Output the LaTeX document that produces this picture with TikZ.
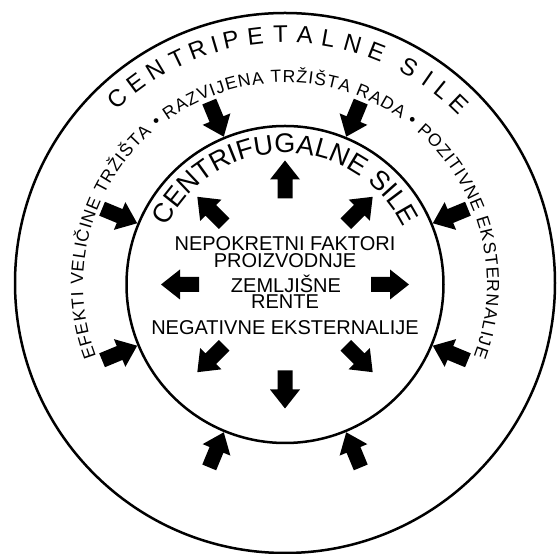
\documentclass[tikz,border=0pt]{standalone}
\usepackage{fontspec}
\setmainfont{Liberation Sans}
\usetikzlibrary{decorations.text,calc}
\newcommand\blockarr[4]{\fill[shift={(C)},rotate=#1] (#2,-7.5) -- (#3,-7.5) -- (#3,-15) -- (#4,0) -- (#3,15) -- (#3,7.5) -- (#2,7.5) -- cycle;}
\newlength\chw
\newcommand\ringfont{\fontsize{17.5}{17.5}\selectfont}
\def\spmark{*}
\def\lgapv{1.0}
\def\ringr{202}
\def\ringchars{E,F,E,K,T,I,*,V,E,L,I,Č,I,N,E,*,T,R,Ž,I,Š,T,A,*,•,*,R,A,Z,V,I,J,E,N,A,*,T,R,Ž,I,Š,T,A,*,R,A,D,A,*,•,*,P,O,Z,I,T,I,V,N,E,*,E,K,S,T,E,R,N,A,L,I,J,E}
\tikzset{
  ring/.style={line width=2.5pt},
  midtext/.style={font=\fontsize{20}{20}\selectfont, anchor=base, inner sep=0pt},
  bigletter/.style={font=\fontsize{24}{24}\selectfont, anchor=base, inner sep=0pt},
  ringletter/.style={font=\ringfont, anchor=base, inner sep=0pt}
}
\begin{document}
% measure the ring-2 letters (outside the picture, where fonts are normal)
\gdef\totlen{0}%
\foreach \ch in \ringchars {%
  \ifx\ch\spmark\settowidth\chw{\ringfont\ }\else\settowidth\chw{\ringfont\ch}\fi
  \pgfmathsetmacro\tmp{\totlen+\chw+\lgapv}%
  \xdef\totlen{\tmp}%
}%
\pgfmathsetmacro\startang{90+(\totlen-\lgapv)/2/\ringr*180/pi}%
\xdef\startang{\startang}%
\gdef\curlen{0}\gdef\ringlist{}%
\foreach \ch in \ringchars {%
  \ifx\ch\spmark\settowidth\chw{\ringfont\ }\else
    \settowidth\chw{\ringfont\ch}%
    \pgfmathsetmacro\ang{\startang-(\curlen+0.5*\chw)/\ringr*180/pi}%
    \ifx\ringlist\empty\xdef\ringlist{\ch/\ang}\else\xdef\ringlist{\ringlist,\ch/\ang}\fi
  \fi
  \pgfmathsetmacro\tmp{\curlen+\chw+\lgapv}%
  \xdef\curlen{\tmp}%
}%
\begin{tikzpicture}[x=1pt,y=1pt]
\useasboundingbox (0,0) rectangle (558,554);
\coordinate (C) at (285,269.5);
\coordinate (O) at (285,271);
\draw[ring] (O) circle[radius=270];
\draw[ring] (C) circle[radius=158.5];
% arrows
\foreach \a in {0,45,...,315} {\blockarr{\a}{86}{105}{124}}
\foreach \a in {22.5,67.5,...,337.5} {\blockarr{\a}{198}{179}{160}}
% centre texts
\node[midtext] (t1) at (285,303) {NEPOKRETNI FAKTORI};
\node[midtext] (t2) at (285,286) {PROIZVODNJE};
\node[midtext] (t3) at (286,261) {ZEMLJIŠNE};
\node[midtext] (t4) at (285,245) {RENTE};
\node[midtext] (t5) at (285,219) {NEGATIVNE EKSTERNALIJE};
% ring 2 text
\foreach \ch/\ang in \ringlist
  {\node[ringletter, rotate=\ang-90] at ($(C)+(\ang:\ringr)$) {\ch};}
% inner ring text
\path[decorate, decoration={text along path, text align=center,
  text={|\fontsize{27}{27}\selectfont|CENTRIFUGALNE SILE}}]
  ($(C)+(175:131.5)$) arc[start angle=175, end angle=5, radius=131.5];
% outer ring text
\foreach \ch/\ang in {C/132,E/126.5,N/121,T/115.5,R/110.5,I/106.3,P/102.5,E/96.8,T/91,A/85.4,L/80,N/74.3,E/68.5,S/60.3,I/55.3,L/50.8,E/46}
  {\node[bigletter, rotate=\ang-90] at ($(C)+(\ang:242)$) {\ch};}
\end{tikzpicture}
\end{document}
